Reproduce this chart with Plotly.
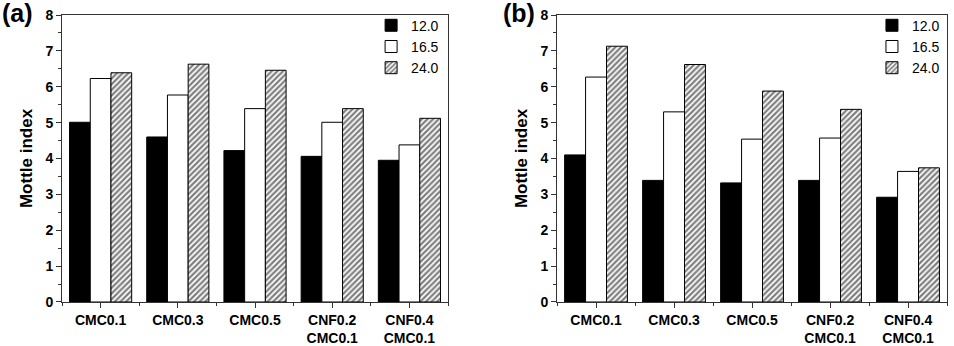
import plotly.graph_objects as go

categories = ["CMC0.1", "CMC0.3", "CMC0.5", "CNF0.2<br>CMC0.1", "CNF0.4<br>CMC0.1"]
series_names = ["12.0", "16.5", "24.0"]

a_12 = [5.01, 4.60, 4.22, 4.06, 3.95]
a_165 = [6.23, 5.77, 5.39, 5.01, 4.38]
a_24 = [6.39, 6.63, 6.46, 5.39, 5.12]

b_12 = [4.10, 3.39, 3.32, 3.39, 2.92]
b_165 = [6.27, 5.30, 4.54, 4.57, 3.64]
b_24 = [7.13, 6.62, 5.88, 5.37, 3.74]

yticks = [0, 1, 2, 3, 4, 5, 6, 7, 8]

FONT = "Liberation Sans, Arial, sans-serif"
xpos = list(range(len(categories)))

styles = [
    dict(color="black", pattern=dict(shape="")),
    dict(color="white", pattern=dict(shape="")),
    dict(color="white", pattern=dict(shape="/", fgcolor="black", bgcolor="white", size=4, solidity=0.55)),
]

fig = go.Figure()

panels = [
    ("x", "y", "legend", [a_12, a_165, a_24]),
    ("x2", "y2", "legend2", [b_12, b_165, b_24]),
]
for xa, ya, lg, vals in panels:
    for name, v, st in zip(series_names, vals, styles):
        fig.add_trace(go.Bar(
            x=xpos, y=v, name=name, xaxis=xa, yaxis=ya, legend=lg,
            marker=dict(color=st["color"], pattern=st["pattern"],
                        line=dict(color="black", width=1)),
        ))

xdoms = [[0.065, 0.4696], [0.5839, 0.9927]]
ydom = [0.1272, 0.9566]

def xaxis_cfg(dom, anchor):
    return dict(
        domain=dom, anchor=anchor, range=[-0.5, 4.5], automargin=False,
        tickmode="array", tickvals=xpos, ticktext=categories,
        ticks="outside", ticklen=5, tickwidth=1, tickcolor="#333",
        showline=True, linecolor="#333", linewidth=1, mirror=True,
        showgrid=False, zeroline=False,
        tickfont=dict(family=FONT, size=14, color="black", weight="bold"),
        minor=dict(tickmode="array", tickvals=[-0.5, 0.5, 1.5, 2.5, 3.5, 4.5],
                   ticks="outside", ticklen=3, tickcolor="#333"),
    )

def yaxis_cfg(anchor):
    return dict(
        domain=ydom, anchor=anchor, range=[0, 8], automargin=False,
        tickmode="array", tickvals=yticks,
        ticks="outside", ticklen=5, tickwidth=1, tickcolor="#333",
        showline=True, linecolor="#333", linewidth=1, mirror=True,
        showgrid=False, zeroline=False,
        tickfont=dict(family=FONT, size=14, color="black", weight="bold"),
        minor=dict(dtick=0.5, ticks="outside", ticklen=3, tickcolor="#333"),
        title=dict(text="Mottle index", standoff=8,
                   font=dict(family=FONT, size=17, color="black", weight="bold")),
    )

legend_common = dict(
    font=dict(family=FONT, size=14, color="black"),
    bgcolor="rgba(0,0,0,0)", borderwidth=0,
    yanchor="top", xanchor="left", tracegroupgap=0,
    itemwidth=30,
)

fig.update_layout(
    width=954, height=346,
    margin=dict(l=0, r=0, t=0, b=0, autoexpand=False),
    paper_bgcolor="white", plot_bgcolor="white",
    barmode="group", bargap=0.195, bargroupgap=0,
    xaxis=xaxis_cfg(xdoms[0], "y"),
    yaxis=yaxis_cfg("x"),
    xaxis2=xaxis_cfg(xdoms[1], "y2"),
    yaxis2=yaxis_cfg("x2"),
    legend=dict(x=0.389, y=0.972, **legend_common),
    legend2=dict(x=0.914, y=0.972, **legend_common),
    annotations=[
        dict(text="(a)", x=0.0, y=1.01, xref="paper", yref="paper", xanchor="left", yanchor="top",
             showarrow=False, font=dict(family=FONT, size=25, color="black", weight="bold")),
        dict(text="(b)", x=0.525, y=1.01, xref="paper", yref="paper", xanchor="left", yanchor="top",
             showarrow=False, font=dict(family=FONT, size=25, color="black", weight="bold")),
    ],
)

fig.write_html("out.html")
